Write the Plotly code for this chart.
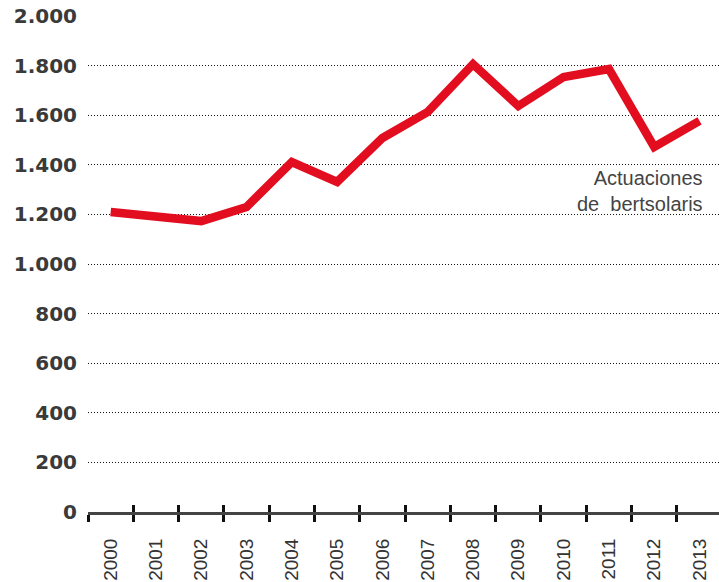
import plotly.graph_objects as go

years = [str(y) for y in range(2000, 2014)]
actuaciones = [1210, 1190, 1173, 1230, 1411, 1331, 1508, 1613, 1806, 1637, 1754, 1786, 1472, 1577]
y_ticks = [0, 200, 400, 600, 800, 1000, 1200, 1400, 1600, 1800, 2000]
series_label = "Actuaciones<br>de  bertsolaris"

fig = go.Figure()
fig.add_trace(go.Scatter(x=years, y=actuaciones, mode="lines",
                         line={"color": "#e30d20", "width": 8.5}, showlegend=False, hoverinfo="skip"))
# invisible trace so the second (inside ticks) axis renders
fig.add_trace(go.Scatter(x=years, y=actuaciones, xaxis="x2", mode="lines",
                         line={"width": 0}, opacity=0, showlegend=False, hoverinfo="skip"))

fig.add_annotation(text=series_label, x=1.0, y=0.70, xref="paper", yref="paper",
                   xanchor="right", yanchor="top", align="right", showarrow=False,
                   xshift=-14,
                   font={"family": "Liberation Sans, Arial", "size": 20, "color": "#444444"})

fig.update_layout(
    width=719, height=582, separators=",.",
    margin={"l": 88, "r": 0, "t": 16, "b": 70},
    plot_bgcolor="white", paper_bgcolor="white",
    xaxis={"type": "category", "range": [-0.5, 13.43], "tickson": "boundaries",
           "ticks": "outside", "ticklen": 7, "tickwidth": 3, "tickcolor": "#111111",
           "showline": True, "linecolor": "#444444", "linewidth": 3,
           "showgrid": False, "tickangle": -90, "ticklabelstandoff": 16,
           "tickfont": {"family": "Liberation Sans, Arial", "size": 19, "color": "#333333"}},
    xaxis2={"type": "category", "overlaying": "x", "matches": "x", "side": "bottom",
            "tickson": "boundaries", "ticks": "inside", "ticklen": 7, "tickwidth": 3,
            "tickcolor": "#111111", "showticklabels": False, "showgrid": False},
    yaxis={"range": [0, 2000], "tickvals": y_ticks, "tickformat": ",d",
           "showgrid": True, "gridcolor": "#111111", "gridwidth": 1, "griddash": "1px,2px",
           "zeroline": False, "showline": False, "ticks": "", "ticklabelstandoff": 10,
           "tickfont": {"family": "DejaVu Sans", "size": 20, "color": "#3a3a3a",
                        "weight": "bold"}},
)

fig.write_html("out.html", config={"displayModeBar": False},
               post_script="document.body.style.margin='0px';")
